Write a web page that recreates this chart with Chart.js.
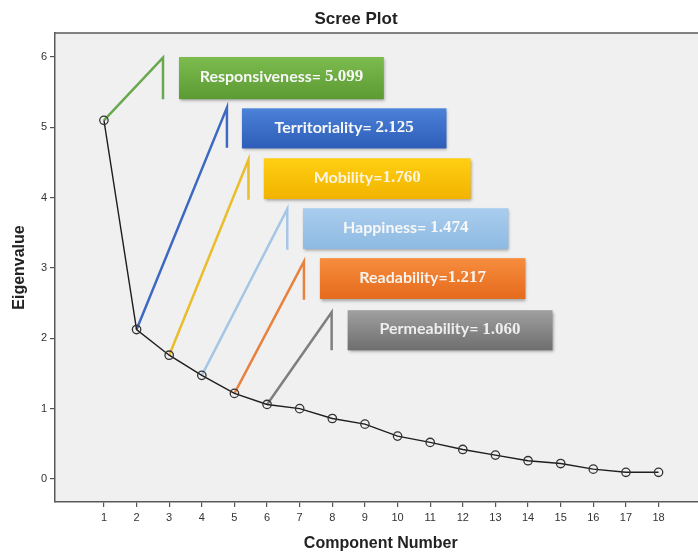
<!DOCTYPE html>
<html>
<head>
<meta charset="utf-8">
<script src="https://cdn.jsdelivr.net/npm/chart.js@4/dist/chart.umd.min.js"></script>
<style>
  html, body { margin: 0; padding: 0; background: #fff; overflow: hidden; }
  /* the original figure is cropped on its right side */
  #wrap { width: 712px; height: 553px; }
</style>
</head>
<body>
<div id="wrap"><canvas id="scree"></canvas></div>
<script>
// Scree plot data
const components = [1, 2, 3, 4, 5, 6, 7, 8, 9, 10, 11, 12, 13, 14, 15, 16, 17, 18];
const eigenvalues = [5.099, 2.125, 1.760, 1.474, 1.217, 1.060, 1.00, 0.86, 0.78, 0.61, 0.52, 0.42, 0.34, 0.26, 0.22, 0.14, 0.095, 0.095];
const yTicks = [0, 1, 2, 3, 4, 5, 6];
const factorNames = ['Responsiveness= ', 'Territoriality= ', 'Mobility=', 'Happiness= ', 'Readability=', 'Permeability= '];

// callout layout (data coordinates) and colours
const callouts = [
  { x0: 3.30, y0: 6.00, x1: 9.58, y1: 5.40, lx: 2.81, ly0: 5.99, ly1: 5.40, line: '#6aa84f', top: '#7cbc4e', bottom: '#5c9a33', text: '#f7f7f7' },
  { x0: 5.23, y0: 5.27, x1: 11.50, y1: 4.70, lx: 4.77, ly0: 5.28, ly1: 4.71, line: '#3e69c2', top: '#4c82d8', bottom: '#2d5db8', text: '#f7f7f7' },
  { x0: 5.90, y0: 4.56, x1: 12.24, y1: 3.98, lx: 5.43, ly0: 4.54, ly1: 3.97, line: '#e9bd2b', top: '#ffcf12', bottom: '#f2b300', text: '#fbf4e0' },
  { x0: 7.10, y0: 3.85, x1: 13.40, y1: 3.27, lx: 6.62, ly0: 3.84, ly1: 3.26, line: '#a5c6e6', top: '#a9cdee', bottom: '#8ebae2', text: '#f7f7f7' },
  { x0: 7.62, y0: 3.14, x1: 13.92, y1: 2.56, lx: 7.13, ly0: 3.09, ly1: 2.55, line: '#e8823e', top: '#f78d3e', bottom: '#e56a1c', text: '#f7f3ee' },
  { x0: 8.47, y0: 2.40, x1: 14.75, y1: 1.83, lx: 7.98, ly0: 2.37, ly1: 1.83, line: '#7f7f7f', top: '#a0a0a0', bottom: '#6e6e6e', text: '#eeeeee' }
];

const mainPoints = components.map((c, i) => ({ x: c, y: eigenvalues[i] }));

const leaderSets = callouts.map((c, i) => ({
  data: [
    { x: components[i], y: eigenvalues[i] },
    { x: c.lx, y: c.ly0 },
    { x: c.lx, y: c.ly1 }
  ],
  borderColor: c.line,
  borderWidth: 2.5,
  pointRadius: 0,
  tension: 0,
  order: 1
}));

// plot background + top border
const plotFrame = {
  id: 'plotFrame',
  beforeDraw(chart) {
    const { ctx, chartArea: a } = chart;
    ctx.save();
    ctx.fillStyle = '#fff';
    ctx.fillRect(0, 0, chart.width, chart.height);
    ctx.fillStyle = '#f0f0f0';
    ctx.fillRect(a.left, a.top, a.right - a.left, a.bottom - a.top);
    ctx.strokeStyle = '#5a5a5a';
    ctx.lineWidth = 1.5;
    ctx.beginPath();
    ctx.moveTo(a.left, a.top);
    ctx.lineTo(a.right, a.top);
    ctx.stroke();
    ctx.restore();
  }
};

// coloured label boxes
const calloutBoxes = {
  id: 'calloutBoxes',
  afterDatasetsDraw(chart) {
    const { ctx, scales: { x, y } } = chart;
    callouts.forEach((c, i) => {
      const l = x.getPixelForValue(c.x0), r = x.getPixelForValue(c.x1);
      const t = y.getPixelForValue(c.y0), b = y.getPixelForValue(c.y1);
      ctx.save();
      ctx.shadowColor = 'rgba(0,0,0,0.35)';
      ctx.shadowBlur = 3;
      ctx.shadowOffsetX = 1;
      ctx.shadowOffsetY = 2;
      const g = ctx.createLinearGradient(0, t, 0, b);
      g.addColorStop(0, c.top);
      g.addColorStop(1, c.bottom);
      ctx.fillStyle = g;
      ctx.fillRect(l, t, r - l, b - t);
      ctx.restore();

      const name = factorNames[i];
      const num = eigenvalues[i].toFixed(3);
      const nameFont = 'bold 16px Lato';
      const numFont = 'bold 17px "Liberation Serif"';
      ctx.save();
      ctx.font = nameFont;
      const w1 = ctx.measureText(name).width;
      ctx.font = numFont;
      const w2 = ctx.measureText(num).width;
      const sx = (l + r) / 2 - (w1 + w2) / 2;
      const cy = (t + b) / 2 - 1;
      ctx.fillStyle = c.text;
      ctx.textBaseline = 'middle';
      ctx.textAlign = 'left';
      ctx.font = nameFont;
      ctx.fillText(name, sx, cy);
      ctx.font = numFont;
      ctx.fillText(num, sx + w1, cy);
      ctx.restore();
    });
  }
};

const axisFont = { family: '"Liberation Sans", Arial', size: 11 };
const titleFont = { family: '"Liberation Sans", Arial', size: 16, weight: 'bold' };

new Chart(document.getElementById('scree'), {
  type: 'line',
  data: {
    datasets: [
      {
        data: mainPoints,
        borderColor: '#1e1e1e',
        borderWidth: 1.4,
        pointRadius: 4.2,
        pointBorderWidth: 1.3,
        pointBorderColor: '#333',
        pointBackgroundColor: 'rgba(0,0,0,0)',
        tension: 0,
        order: 0
      },
      ...leaderSets
    ]
  },
  options: {
    responsive: true,
    maintainAspectRatio: false,
    animation: false,
    layout: { padding: 0 },
    plugins: {
      legend: { display: false },
      tooltip: { enabled: false },
      title: {
        display: true,
        text: 'Scree Plot',
        color: '#222',
        font: { family: '"Liberation Sans", Arial', size: 17, weight: 'bold' },
        padding: { top: 9, bottom: 3.6 }
      }
    },
    scales: {
      x: {
        type: 'linear',
        min: -0.5,
        max: 19.47,
        afterBuildTicks: s => { s.ticks = components.map(v => ({ value: v })); },
        afterFit: s => { s.height = 51; },
        grid: { drawOnChartArea: false, drawTicks: true, tickLength: 5, color: '#555', lineWidth: 1.2 },
        border: { display: true, color: '#5a5a5a', width: 1.5 },
        ticks: { color: '#333', font: axisFont, padding: 4, maxRotation: 0, autoSkip: false },
        title: { display: true, text: 'Component Number', color: '#222', font: titleFont, padding: { top: 0, bottom: 0 } }
      },
      y: {
        min: -0.327,
        max: 6.341,
        afterBuildTicks: s => { s.ticks = yTicks.map(v => ({ value: v })); },
        afterFit: s => { s.width = 55; },
        grid: { drawOnChartArea: false, drawTicks: true, tickLength: 5, color: '#555', lineWidth: 1.2 },
        border: { display: true, color: '#5a5a5a', width: 1.5 },
        ticks: { color: '#333', font: axisFont, padding: 3 },
        title: { display: true, text: 'Eigenvalue', color: '#222', font: titleFont, padding: { top: 10, bottom: 0 } }
      }
    }
  },
  plugins: [plotFrame, calloutBoxes]
});
</script>
</body>
</html>
